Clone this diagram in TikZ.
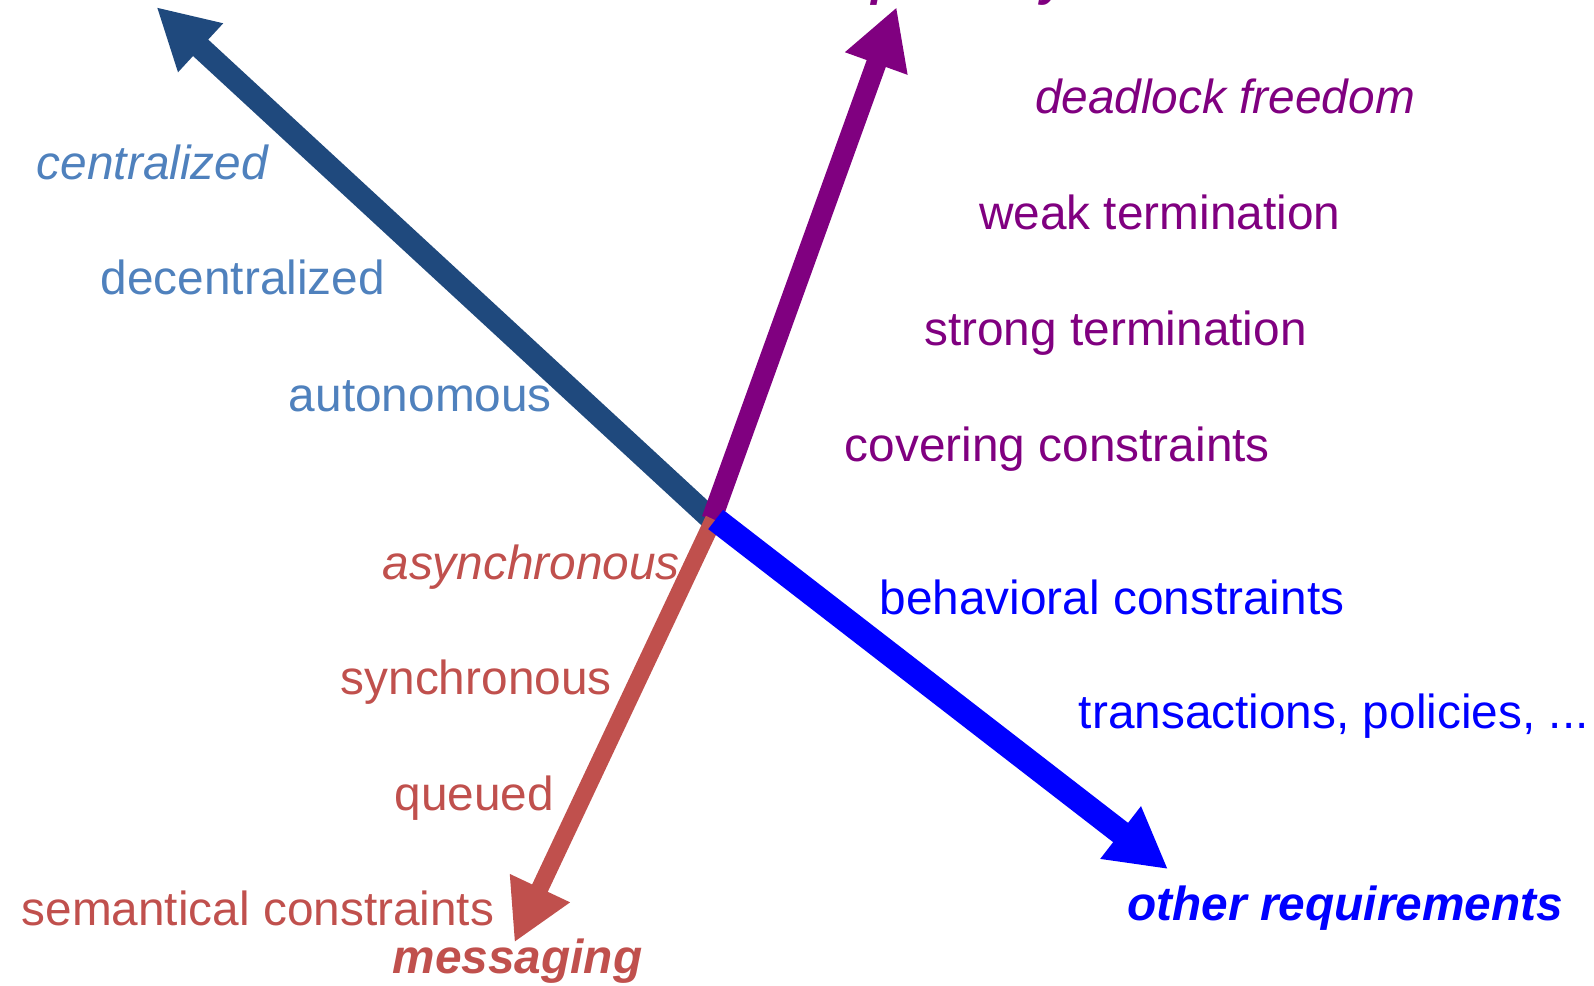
\documentclass[tikz,border=0pt]{standalone}
\usepackage{fontspec}
\setmainfont{Liberation Sans}
\usetikzlibrary{arrows.meta}
\definecolor{archblue}{HTML}{1F497D}
\definecolor{archtext}{HTML}{4F81BD}
\definecolor{compat}{HTML}{800080}
\definecolor{msgred}{HTML}{C0504D}
\definecolor{otherblue}{HTML}{0000FF}
\begin{document}
\begin{tikzpicture}[x=1pt, y=-1pt, every node/.style={font=\fontsize{47}{56}\selectfont, inner sep=0pt, anchor=base west},
  axis/.style={line width=#1, -{Triangle[length=59pt, width=61pt]}},
  title/.style={font=\fontsize{47}{56}\selectfont\bfseries\itshape}]
\useasboundingbox (0,0) rectangle (1568,969);
\clip (0,0) rectangle (1568,969);
% axes
\coordinate (ctr) at (700,511);
\coordinate (archtip) at (154,7);
\coordinate (compattip) at (882,7);
\coordinate (msgtip) at (506,927);
\coordinate (othertip) at (1149,855);
\draw[axis=22pt, archblue] (ctr) -- (archtip);
\draw[axis=20pt, compat] (ctr) -- (compattip);
\draw[axis=17pt, msgred] ([xshift=2pt]ctr) -- (msgtip);
\draw[axis=24pt, otherblue] ([xshift=4pt]ctr) -- (othertip);
% axis names
\node[title, text=compat] (compatname) at (760,-4) {compatibility};
\node[title, text=msgred] (msgname) at (386,958) {messaging};
\node[title, text=otherblue] (othername) at (1109,905) {other requirements};
% architecture
\node[text=archtext, font=\fontsize{47}{56}\selectfont\itshape] (central) at (36,177) {centralized};
\node[text=archtext] (decentral) at (99,290) {decentralized};
\node[text=archtext] (auto) at (284,405) {autonomous};
% compatibility
\node[text=compat, font=\fontsize{47}{56}\selectfont\itshape] (deadlock) at (1018,112) {deadlock freedom};
\node[text=compat] (weak) at (963,226) {weak termination};
\node[text=compat] (strong) at (909,340) {strong termination};
\node[text=compat] (covering) at (831,454) {covering constraints};
% other requirements
\node[text=otherblue] (behav) at (865,604) {behavioral constraints};
\node[text=otherblue] (trans) at (1061,717) {transactions, policies, ...};
% messaging
\node[text=msgred, font=\fontsize{47}{56}\selectfont\itshape] (async) at (376,570) {asynchronous};
\node[text=msgred] (sync) at (335,683) {synchronous};
\node[text=msgred] (queued) at (388,797) {queued};
\node[text=msgred] (semantic) at (21,910) {semantical constraints};
\end{tikzpicture}
\end{document}
